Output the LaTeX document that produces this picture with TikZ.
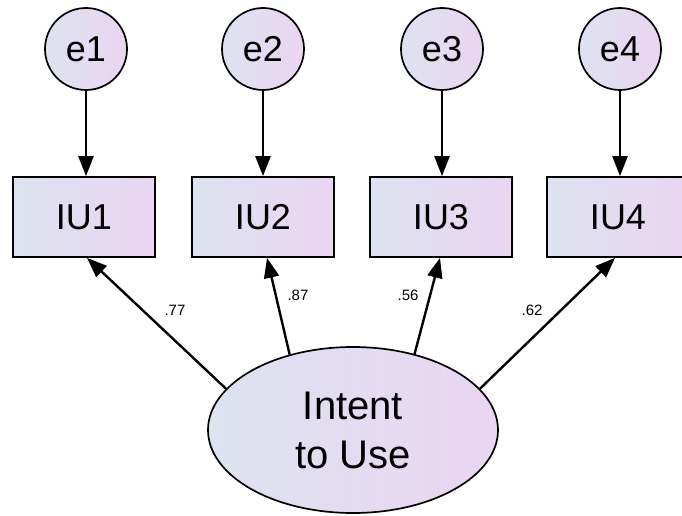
\documentclass[tikz,border=0pt]{standalone}
\usepackage{fontspec}
\setmainfont{Liberation Sans}
\usetikzlibrary{shapes.geometric,arrows.meta}
\definecolor{shL}{RGB}{221,227,240}
\definecolor{shR}{RGB}{234,213,243}
\tikzset{
  grad/.style={left color=shL,right color=shR,draw=black,line width=1.7pt},
  errc/.style={grad,circle,minimum size=82pt,inner sep=0pt,font=\fontsize{36}{38}\selectfont},
  obsbox/.style={grad,rectangle,minimum width=142pt,minimum height=80pt,inner sep=0pt,font=\fontsize{36}{38}\selectfont},
  latent/.style={grad,ellipse,minimum width=290pt,minimum height=166pt,inner sep=0pt,align=center,font=\fontsize{40}{49}\selectfont},
  conn/.style={line width=2.4pt,-{Triangle[length=20pt,width=15pt]}},
  wlab/.style={font=\fontsize{15}{16}\selectfont,inner sep=0pt}
}
\begin{document}
\begin{tikzpicture}[x=1pt,y=-1pt]
\useasboundingbox (0,0) rectangle (682,516);
\node[errc] (e1) at (86,49) {e1};
\node[errc] (e2) at (263,49) {e2};
\node[errc] (e3) at (442,49) {e3};
\node[errc] (e4) at (620,49) {e4};
\node[obsbox] (IU1) at (84,217) {IU1};
\node[obsbox] (IU2) at (263,217) {IU2};
\node[obsbox] (IU3) at (441,217) {IU3};
\node[obsbox] (IU4) at (618,217) {IU4};
\node[latent] (ITU) at (353,430) {Intent\\to Use};
\draw[conn] (e1) -- (e1 |- IU1.north);
\draw[conn] (e2) -- (e2 |- IU2.north);
\draw[conn] (e3) -- (e3 |- IU3.north);
\draw[conn] (e4) -- (e4 |- IU4.north);
\draw[conn] (ITU.162) -- ([xshift=3pt]IU1.south);
\draw[conn] (ITU.130) -- ([xshift=4pt]IU2.south);
\draw[conn] (ITU.51.5) -- ([xshift=-1pt]IU3.south);
\draw[conn] (ITU.18) -- ([xshift=-3pt]IU4.south);
\node[wlab] (l1) at (175,310) {.77};
\node[wlab] (l2) at (298,295) {.87};
\node[wlab] (l3) at (408,295) {.56};
\node[wlab] (l4) at (532,310) {.62};
\end{tikzpicture}
\end{document}
